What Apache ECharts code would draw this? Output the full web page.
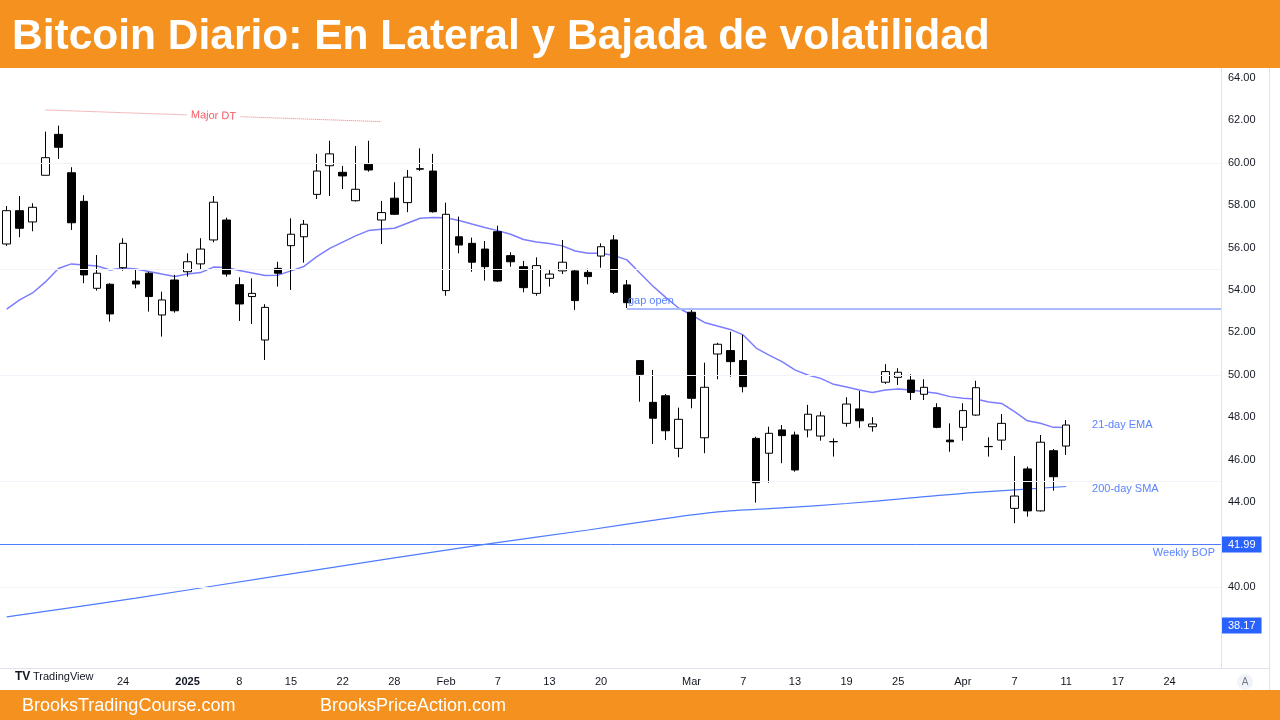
<!DOCTYPE html>
<html>
<head>
<meta charset="utf-8">
<title>Bitcoin Diario</title>
<script src="https://cdn.jsdelivr.net/npm/echarts@6.0.0/dist/echarts.min.js"></script>
<style>
  html, body { margin: 0; padding: 0; background: #fff; }
  #chart { width: 1280px; height: 720px; }
</style>
</head>
<body>
<div id="chart"></div>
<script>
// sesiones de negociación (eje x por índice de sesión)
const days = [
  '2024-12-11','2024-12-12','2024-12-13','2024-12-16','2024-12-17','2024-12-18','2024-12-19','2024-12-20','2024-12-23','2024-12-24','2024-12-26','2024-12-27','2024-12-30','2024-12-31',
  '2025-01-02','2025-01-03','2025-01-06','2025-01-07','2025-01-08','2025-01-10','2025-01-13','2025-01-14','2025-01-15','2025-01-16','2025-01-17','2025-01-21','2025-01-22','2025-01-23','2025-01-24','2025-01-27','2025-01-28','2025-01-29','2025-01-30','2025-01-31',
  '2025-02-03','2025-02-04','2025-02-05','2025-02-06','2025-02-07','2025-02-10','2025-02-11','2025-02-12','2025-02-13','2025-02-14','2025-02-18','2025-02-19','2025-02-20','2025-02-21','2025-02-24','2025-02-25','2025-02-26','2025-02-27','2025-02-28',
  '2025-03-03','2025-03-04','2025-03-05','2025-03-06','2025-03-07','2025-03-10','2025-03-11','2025-03-12','2025-03-13','2025-03-14','2025-03-17','2025-03-18','2025-03-19','2025-03-20','2025-03-21','2025-03-24','2025-03-25','2025-03-26','2025-03-27','2025-03-28','2025-03-31',
  '2025-04-01','2025-04-02','2025-04-03','2025-04-04','2025-04-07','2025-04-08','2025-04-09','2025-04-10','2025-04-11',
  '2025-04-14','2025-04-15','2025-04-16','2025-04-17','2025-04-21','2025-04-22','2025-04-23','2025-04-24'
];

const opens = [
  56.17, 57.74, 57.21, 59.41, 61.34, 59.53, 58.18, 54.08, 54.27, 55.05, 54.42, 54.79, 52.82, 54.47,
  54.86, 55.23, 56.36, 57.30, 54.25, 53.69, 51.64, 55.02, 56.09, 56.51, 58.51, 59.86, 59.55, 58.21, 59.93, 57.30, 58.33, 58.12, 59.72, 59.61,
  53.97, 56.51, 56.20, 55.93, 56.75, 55.62, 55.10, 53.84, 54.55, 54.90, 54.90, 54.83, 55.60, 56.36, 54.24, 50.67, 48.70, 49.01, 46.53,
  52.95, 47.03, 50.98, 51.14, 50.67, 47.00, 46.30, 47.40, 47.16, 47.40, 47.11, 46.84, 47.71, 48.39, 47.55, 49.65, 49.88, 49.75, 49.08, 48.45, 46.92,
  47.52, 48.10, 46.61, 46.92, 43.70, 45.56, 43.58, 46.42, 46.64
];
const highs = [
  57.96, 58.43, 58.09, 61.47, 61.75, 59.79, 58.47, 55.65, 54.32, 56.44, 54.94, 54.86, 53.92, 54.71,
  55.73, 56.44, 58.43, 57.41, 54.60, 54.55, 53.33, 55.33, 57.38, 57.30, 60.42, 61.04, 59.85, 60.79, 61.04, 58.20, 59.08, 59.66, 60.68, 60.42,
  58.12, 57.46, 56.47, 56.31, 57.03, 55.78, 55.37, 55.54, 54.94, 56.36, 54.98, 55.00, 56.20, 56.59, 54.47, 50.67, 50.23, 49.09, 48.45,
  53.06, 50.57, 51.51, 52.03, 51.88, 47.08, 47.55, 47.63, 47.32, 48.58, 48.26, 47.00, 48.94, 49.24, 48.00, 50.50, 50.31, 50.02, 49.79, 48.66, 47.71,
  48.66, 49.72, 47.05, 48.15, 46.17, 45.67, 47.16, 46.50, 47.87
];
const lows = [
  56.08, 56.49, 56.77, 59.41, 60.18, 56.83, 54.32, 53.97, 52.51, 54.91, 54.08, 52.98, 51.80, 52.93,
  54.63, 54.98, 56.25, 54.63, 52.54, 52.40, 50.70, 54.16, 54.00, 55.29, 58.29, 58.43, 58.76, 58.17, 59.58, 56.17, 57.55, 57.67, 59.62, 57.65,
  53.73, 55.73, 54.86, 54.44, 54.38, 55.10, 53.89, 53.73, 54.16, 54.75, 53.06, 54.27, 55.05, 53.81, 53.15, 48.73, 46.74, 46.92, 46.11,
  48.42, 46.30, 49.79, 49.91, 49.17, 43.97, 44.91, 45.83, 45.43, 47.05, 46.89, 46.14, 47.55, 47.50, 47.32, 49.57, 49.52, 48.81, 48.81, 47.48, 46.37,
  46.89, 48.07, 46.14, 46.45, 43.00, 43.31, 43.55, 44.53, 46.22
];
const closes = [
  57.74, 56.91, 57.90, 60.24, 60.73, 57.17, 54.71, 54.79, 52.87, 56.20, 54.28, 53.69, 53.53, 53.02,
  55.33, 55.93, 58.14, 54.75, 53.34, 53.84, 53.18, 54.79, 56.63, 57.10, 59.61, 60.42, 59.38, 58.75, 59.66, 57.65, 57.57, 59.32, 59.70, 57.69,
  57.57, 56.12, 55.31, 55.10, 54.42, 55.33, 54.11, 55.15, 54.75, 55.31, 53.50, 54.63, 56.04, 53.89, 53.40, 50.02, 47.95, 47.36, 47.90,
  48.89, 49.41, 51.44, 50.62, 49.44, 44.91, 47.24, 47.13, 45.51, 48.14, 48.06, 46.85, 48.62, 47.83, 47.68, 50.15, 50.12, 49.17, 49.41, 47.52, 46.84,
  48.31, 49.39, 46.62, 47.71, 44.28, 43.58, 46.82, 45.19, 47.63
];

// 21-day EMA, una por sesión
const ema21 = [
  53.10, 53.53, 53.86, 54.38, 55.01, 55.23, 55.18, 55.13, 54.94, 55.04, 54.99, 54.87, 54.75, 54.64,
  54.75, 54.82, 55.08, 55.06, 54.92, 54.80, 54.68, 54.70, 54.90, 55.11, 55.57, 55.96, 56.26, 56.55, 56.80, 56.86, 56.91, 57.15, 57.38, 57.42,
  57.41, 57.28, 57.11, 56.95, 56.80, 56.63, 56.38, 56.26, 56.19, 56.08, 55.84, 55.73, 55.73, 55.63, 55.42, 54.80, 54.19, 53.65, 53.15,
  52.82, 52.47, 52.30, 52.14, 51.88, 51.26, 50.93, 50.62, 50.23, 49.99, 49.83, 49.55, 49.42, 49.28, 49.16, 49.28, 49.33, 49.28, 49.20, 49.13, 48.97,
  48.89, 48.86, 48.72, 48.65, 48.26, 47.83, 47.71, 47.52, 47.51
];

const sma200 = [
  ['2024-12-11', 38.58], ['2024-12-26', 39.47], ['2025-01-13', 40.42], ['2025-01-28', 41.36],
  ['2025-02-06', 42.00], ['2025-02-19', 42.68], ['2025-02-26', 43.13], ['2025-03-05', 43.53],
  ['2025-03-12', 43.72], ['2025-03-19', 43.93], ['2025-03-26', 44.19], ['2025-04-02', 44.45],
  ['2025-04-11', 44.73]
];

const tickDays = ['2024-12-24','2025-01-02','2025-01-08','2025-01-15','2025-01-22','2025-01-28','2025-02-03','2025-02-07','2025-02-13','2025-02-20',
  '2025-03-03','2025-03-07','2025-03-13','2025-03-19','2025-03-25','2025-04-01','2025-04-07','2025-04-11','2025-04-17','2025-04-24'];
const tickText = ['24','2025','8','15','22','28','Feb','7','13','20','Mar','7','13','19','25','Apr','7','11','17','24'];
const priceTicks = [40, 44, 46, 48, 50, 52, 54, 56, 58, 60, 62, 64];
const gridLevels = [40, 45, 50, 55, 60];

const weeklyBop = 41.99;
const lastBox = 38.17;
const gapOpen = 53.10;
const gapStart = '2025-02-24';
const majorDT = [['2024-12-16', 62.49], ['2025-01-27', 61.94]];
const labelDay = '2025-04-15';
const emaLabelY = 47.63;
const smaLabelY = 44.61;

const idx = d => days.indexOf(d);
const ORANGE = '#F5921F';
const BLUE = '#2962ff';
const FONT = '"Liberation Sans", Arial, sans-serif';
const X_MIN = -0.52, X_MAX = 93.98;
const NONE = 'rgba(0,0,0,0)';

const candles = opens.map((o, i) => [i, o, closes[i], lows[i], highs[i]]);
const tickIdx = tickDays.map(idx);

let myChart = echarts.init(document.getElementById('chart'));
let option = {
  animation: false,
  backgroundColor: '#ffffff',
  textStyle: { fontFamily: FONT },
  grid: { left: 0, right: 59, top: 68, bottom: 52 },
  xAxis: {
    type: 'value',
    min: X_MIN,
    max: X_MAX,
    splitLine: { show: false },
    axisTick: { show: false },
    axisLine: { show: true, onZero: false, lineStyle: { color: '#e0e3eb' } },
    axisLabel: {
      customValues: tickIdx,
      formatter: v => {
        const t = tickText[tickIdx.indexOf(v)];
        return t === '2025' ? '{b|2025}' : t;
      },
      color: '#131722',
      fontSize: 11,
      margin: 8,
      rich: { b: { fontWeight: 'bold', fontSize: 11, color: '#131722' } }
    }
  },
  yAxis: {
    type: 'value',
    position: 'right',
    min: 36.17,
    max: 64.47,
    splitLine: { show: false },
    axisTick: { show: false },
    axisLine: { show: true, onZero: false, lineStyle: { color: '#e0e3eb' } },
    axisLabel: {
      customValues: priceTicks,
      formatter: v => v.toFixed(2),
      color: '#131722',
      fontSize: 11,
      margin: 7
    }
  },
  series: [
    { // líneas de cuadrícula
      type: 'line',
      data: [],
      z: 0,
      silent: true,
      markLine: {
        silent: true,
        symbol: ['none', 'none'],
        label: { show: false },
        lineStyle: { color: '#f0f3fa', width: 1, type: 'solid' },
        data: gridLevels.map(v => ({ yAxis: v }))
      }
    },
    {
      name: '200-day SMA',
      type: 'line',
      data: sma200.map(p => [idx(p[0]), p[1]]),
      smooth: 0.3,
      showSymbol: false,
      lineStyle: { color: '#4f7cff', width: 1.2 },
      z: 1,
      markPoint: {
        symbolSize: 0,
        itemStyle: { color: NONE },
        label: { show: true, position: 'right', distance: 0, color: '#5b83ff', fontSize: 11, formatter: '200-day SMA' },
        data: [{ coord: [idx(labelDay), smaLabelY] }]
      }
    },
    {
      name: '21-day EMA',
      type: 'line',
      data: ema21.map((v, i) => [i, v]),
      showSymbol: false,
      lineStyle: { color: '#7c7cff', width: 1.5 },
      z: 1,
      markPoint: {
        symbolSize: 0,
        itemStyle: { color: NONE },
        label: { show: true, position: 'right', distance: 0, color: '#5b83ff', fontSize: 11, formatter: '21-day EMA' },
        data: [{ coord: [idx(labelDay), emaLabelY] }]
      }
    },
    {
      name: 'IBIT',
      type: 'candlestick',
      data: candles,
      encode: { x: 0, y: [1, 2, 3, 4] },
      barWidth: 8,
      z: 3,
      itemStyle: {
        color: '#ffffff',
        color0: '#000000',
        borderColor: '#000000',
        borderColor0: '#000000',
        borderColorDoji: '#000000',
        borderWidth: 1
      },
      markLine: {
        silent: true,
        symbol: ['none', 'none'],
        data: [
          { // Weekly BOP
            yAxis: weeklyBop,
            lineStyle: { color: '#4f7cff', width: 1, type: 'solid' },
            label: { show: true, position: 'insideEndBottom', distance: [6, 3], color: '#5b83ff', fontSize: 11, formatter: 'Weekly BOP' }
          },
          {
            yAxis: weeklyBop,
            lineStyle: { color: NONE, width: 1 },
            label: { show: true, position: 'end', distance: 1, color: '#fff', fontSize: 11, backgroundColor: BLUE, padding: [3, 6, 2, 6], formatter: weeklyBop.toFixed(2) }
          },
          {
            yAxis: lastBox,
            lineStyle: { color: NONE, width: 1 },
            label: { show: true, position: 'end', distance: 1, color: '#fff', fontSize: 11, backgroundColor: BLUE, padding: [3, 6, 2, 6], formatter: lastBox.toFixed(2) }
          },
          [ // gap open
            { coord: [idx(gapStart), gapOpen], lineStyle: { color: '#a9bcff', width: 2, type: 'solid' },
              label: { show: true, position: 'insideStartTop', distance: [1, 3], color: '#5b83ff', fontSize: 11, formatter: 'gap open' } },
            { coord: [X_MAX, gapOpen] }
          ],
          [ // Major DT
            { coord: [idx(majorDT[0][0]), majorDT[0][1]], lineStyle: { color: '#f5737a', width: 1, type: 'dotted' },
              label: { show: true, position: 'middle', distance: 0, verticalAlign: 'middle', color: '#f45b63', fontSize: 11, backgroundColor: '#ffffff', padding: [0, 4], formatter: 'Major DT' } },
            { coord: [idx(majorDT[1][0]), majorDT[1][1]] }
          ]
        ]
      }
    }
  ],
  graphic: [
    { type: 'rect', shape: { x: 0, y: 0, width: 1280, height: 68 }, style: { fill: ORANGE }, z: 10 },
    { type: 'text', x: 12, y: 37, z: 11,
      style: { text: 'Bitcoin Diario: En Lateral y Bajada de volatilidad', fill: '#ffffff', font: 'bold 42.5px "Liberation Sans", Arial, sans-serif', verticalAlign: 'middle' } },
    { type: 'line', shape: { x1: 1221, y1: 668.5, x2: 1270, y2: 668.5 }, style: { stroke: '#e0e3eb', lineWidth: 1 }, z: 5 },
    { type: 'line', shape: { x1: 1269.5, y1: 68, x2: 1269.5, y2: 690 }, style: { stroke: '#e0e3eb', lineWidth: 1 }, z: 5 },
    { type: 'text', x: 15, y: 677, z: 5, style: { text: 'TV', fill: '#131722', font: 'bold 12px "Liberation Sans", Arial', verticalAlign: 'middle' } },
    { type: 'text', x: 33, y: 677, z: 5, style: { text: 'TradingView', fill: '#131722', font: '11px "Liberation Sans", Arial', verticalAlign: 'middle' } },
    { type: 'circle', shape: { cx: 1245, cy: 682, r: 8 }, style: { fill: '#f0f3fa' }, z: 5 },
    { type: 'text', x: 1245, y: 682, z: 6, style: { text: 'A', fill: '#787b86', font: '10px "Liberation Sans", Arial', align: 'center', verticalAlign: 'middle' } },
    { type: 'rect', shape: { x: 0, y: 690, width: 1280, height: 30 }, style: { fill: ORANGE }, z: 10 },
    { type: 'text', x: 22, y: 706, z: 11, style: { text: 'BrooksTradingCourse.com', fill: '#ffffff', font: '18px "Liberation Sans", Arial', verticalAlign: 'middle' } },
    { type: 'text', x: 320, y: 706, z: 11, style: { text: 'BrooksPriceAction.com', fill: '#ffffff', font: '18px "Liberation Sans", Arial', verticalAlign: 'middle' } }
  ]
};
myChart.setOption(option);
</script>
</body>
</html>
